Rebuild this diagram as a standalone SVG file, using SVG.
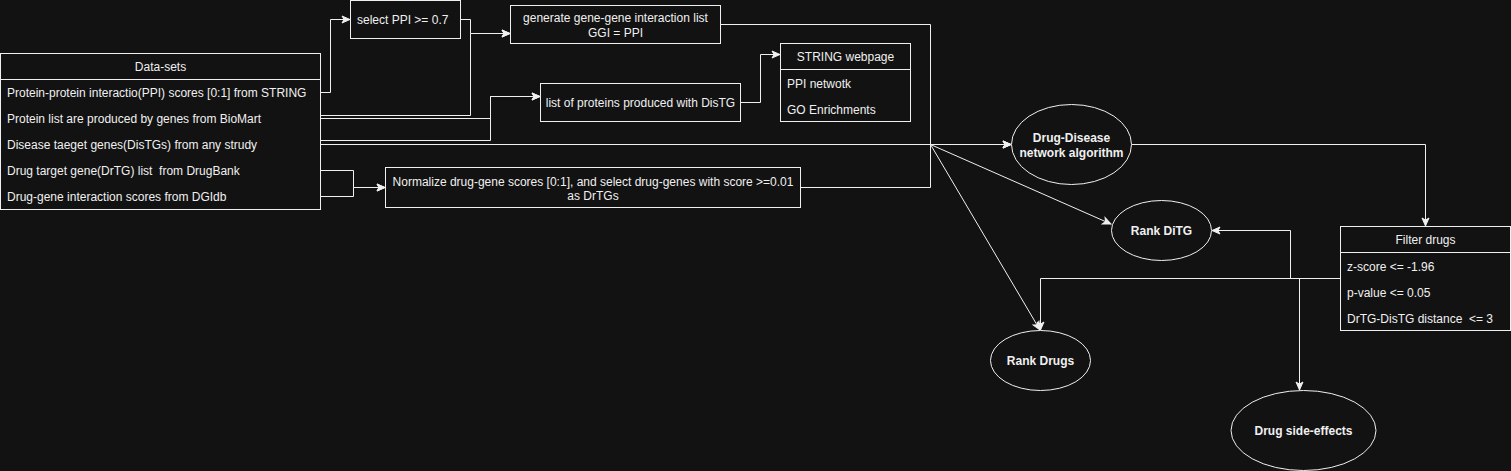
<svg xmlns="http://www.w3.org/2000/svg" width="1511" height="471" viewBox="0 0 1511 471">
<style>
.box{fill:#121212;stroke:#f0f0f0;stroke-width:1}
.sep{stroke:#f0f0f0;stroke-width:1}
.t{font-family:"Liberation Sans",Arial,sans-serif;font-size:12px;fill:#f0f0f0;white-space:pre}
.c{text-anchor:middle}
.b{font-weight:bold}
.e{fill:none;stroke:#f0f0f0;stroke-width:1}
</style>
<defs>
<marker id="arr" markerUnits="userSpaceOnUse" markerWidth="10" markerHeight="10" refX="9" refY="5" orient="auto">
<path d="M1,1.5 L9,5 L1,8.5 L3,5 Z" fill="#f0f0f0" stroke="#f0f0f0" stroke-width="1"/>
</marker>
</defs>
<rect width="1511" height="471" fill="#121212"/>
<g id="connectors">
<path class="e" d="M320.5,92.5 H330.5 V19.5 H350" marker-end="url(#arr)"/>
<path class="e" d="M460.5,19.5 H470.5 V33.5 H510" marker-end="url(#arr)"/>
<path class="e" d="M320.5,115.5 H470.5 V33.5 H510" marker-end="url(#arr)"/>
<path class="e" d="M320.5,118.5 H490.5 V96.5 H540" marker-end="url(#arr)"/>
<path class="e" d="M320.5,140.5 H490.5 V96.5 H540" marker-end="url(#arr)"/>
<path class="e" d="M740.5,102.5 H760.5 V54.5 H780" marker-end="url(#arr)"/>
<path class="e" d="M720.5,24.5 H930.5 V144.5 H1011" marker-end="url(#arr)"/>
<path class="e" d="M320.5,144.5 H1011" marker-end="url(#arr)"/>
<path class="e" d="M800.5,187.5 H930.5 V144.5 H1011" marker-end="url(#arr)"/>
<path class="e" d="M320.5,170.5 H353.5 V187.5 H385" marker-end="url(#arr)"/>
<path class="e" d="M320.5,196.5 H353.5 V187.5 H385" marker-end="url(#arr)"/>
<path class="e" d="M930.5,144.5 L1111,224" marker-end="url(#arr)"/>
<path class="e" d="M930.5,144.5 L1040,330" marker-end="url(#arr)"/>
<path class="e" d="M1131.5,144.5 H1425.5 V226" marker-end="url(#arr)"/>
<path class="e" d="M1340.5,278.5 H1040.5 V330" marker-end="url(#arr)"/>
<path class="e" d="M1340.5,278.5 H1290.5 V230.5 H1212" marker-end="url(#arr)"/>
<path class="e" d="M1340.5,278.5 H1299.5 V390" marker-end="url(#arr)"/>
</g>
<g id="datasets">
<rect class="box" x="0.5" y="53.5" width="320" height="156"/>
<line class="sep" x1="0.5" y1="79.5" x2="320.5" y2="79.5"/>
<text class="t c" x="160.5" y="70.5">Data-sets</text>
<text class="t" x="7" y="97">Protein-protein interactio(PPI) scores [0:1] from STRING</text>
<text class="t" x="7" y="123">Protein list are produced by genes from BioMart</text>
<text class="t" x="7" y="149">Disease taeget genes(DisTGs) from any strudy</text>
<text class="t" x="7" y="175" xml:space="preserve">Drug target gene(DrTG) list  from DrugBank</text>
<text class="t" x="7" y="201">Drug-gene interaction scores from DGIdb</text>
</g>
<g id="selectppi">
<rect class="box" x="350.5" y="0.5" width="110" height="38"/>
<text class="t" x="357" y="24">select PPI &gt;= 0.7</text>
</g>
<g id="generate">
<rect class="box" x="510.5" y="5.5" width="210" height="38"/>
<text class="t c" x="615.5" y="22">generate gene-gene interaction list</text>
<text class="t c" x="615.5" y="36.5">GGI = PPI</text>
</g>
<g id="listproteins">
<rect class="box" x="540.5" y="83.5" width="200" height="38"/>
<text class="t c" x="640.5" y="106.5">list of proteins produced with DisTG</text>
</g>
<g id="string">
<rect class="box" x="780.5" y="43.5" width="130" height="78"/>
<line class="sep" x1="780.5" y1="69.5" x2="910.5" y2="69.5"/>
<text class="t c" x="845.5" y="60.5">STRING webpage</text>
<text class="t" x="787" y="87.5">PPI netwotk</text>
<text class="t" x="787" y="113.5">GO Enrichments</text>
</g>
<g id="normalize">
<rect class="box" x="385.5" y="167.5" width="415" height="40"/>
<text class="t c" x="593" y="185.5">Normalize drug-gene scores [0:1], and select drug-genes with score &gt;=0.01</text>
<text class="t c" x="593" y="200">as DrTGs</text>
</g>
<g id="algorithm">
<ellipse class="box" cx="1071.5" cy="144.5" rx="60" ry="40"/>
<text class="t c b" x="1071.5" y="142">Drug-Disease</text>
<text class="t c b" x="1071.5" y="157">network algorithm</text>
</g>
<g id="rankditg">
<ellipse class="box" cx="1161.5" cy="230.5" rx="50" ry="30"/>
<text class="t c b" x="1161.5" y="235">Rank DiTG</text>
</g>
<g id="rankdrugs">
<ellipse class="box" cx="1040.5" cy="360.5" rx="50" ry="30"/>
<text class="t c b" x="1040.5" y="365">Rank Drugs</text>
</g>
<g id="sideeffects">
<ellipse class="box" cx="1303.5" cy="430.5" rx="72.5" ry="40"/>
<text class="t c b" x="1303.5" y="435">Drug side-effects</text>
</g>
<g id="filter">
<rect class="box" x="1340.5" y="226.5" width="170" height="104"/>
<line class="sep" x1="1340.5" y1="252.5" x2="1510.5" y2="252.5"/>
<text class="t c" x="1425.5" y="244">Filter drugs</text>
<text class="t" x="1347" y="271">z-score &lt;= -1.96</text>
<text class="t" x="1347" y="297">p-value &lt;= 0.05</text>
<text class="t" x="1347" y="323" xml:space="preserve">DrTG-DisTG distance  &lt;= 3</text>
</g>
</svg>
